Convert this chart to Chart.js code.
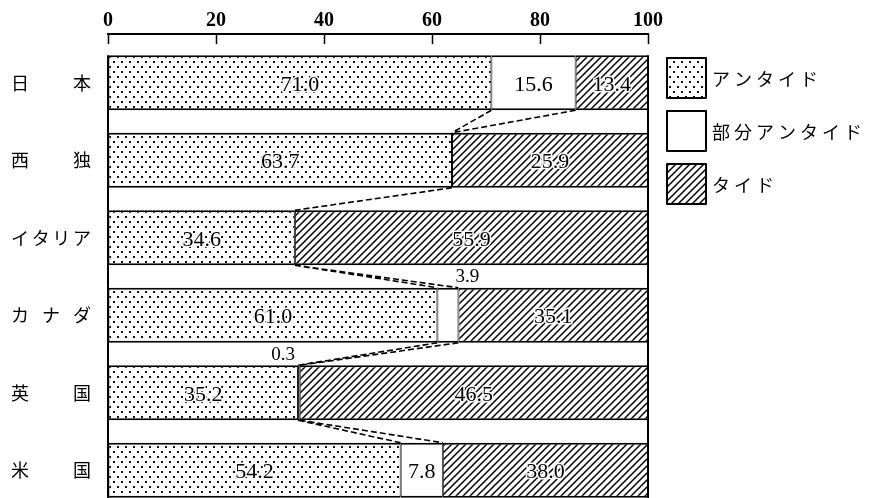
<!DOCTYPE html>
<html>
<head>
<meta charset="utf-8">
<script src="https://cdn.jsdelivr.net/npm/chart.js@4"></script>
<style>
html, body { margin: 0; padding: 0; background: #fff; overflow: hidden }
#wrap { width: 872px; height: 509px; position: relative }
</style>
</head>
<body>
<div id="wrap"><canvas id="chart"></canvas></div>
<script>

const countries = ["日本", "西独", "イタリア", "カナダ", "英国", "米国"]
const untied = [71.0, 63.7, 34.6, 61.0, 35.2, 54.2]
const partUntied = [15.6, null, null, 3.9, 0.3, 7.8]
const tied = [13.4, 25.9, 55.9, 35.1, 46.5, 38.0]
const xTicks = [0, 20, 40, 60, 80, 100]
const seriesNames = ["アンタイド", "部分アンタイド", "タイド"]

const numFont = "'Liberation Serif', 'DejaVu Serif', serif"
const jpFont = "'Noto Sans CJK JP', sans-serif"


function makeDots(){

const c = document.createElement("canvas")
c.width = 8
c.height = 10
const g = c.getContext("2d")
g.fillStyle = "#fff"
g.fillRect(0, 0, 8, 10)
g.fillStyle = "#111"
g.fillRect(1, 1, 2, 2)
g.fillRect(5, 6, 2, 2)
return g.createPattern(c, "repeat")

}

function makeHatch(){

const c = document.createElement("canvas")
c.width = 7
c.height = 7
const g = c.getContext("2d")
g.fillStyle = "#fff"
g.fillRect(0, 0, 7, 7)
g.strokeStyle = "#000"
g.lineWidth = 1.5
g.beginPath()
g.moveTo(-1, 8); g.lineTo(8, -1)
g.moveTo(-1, 1); g.lineTo(1, -1)
g.moveTo(6, 8); g.lineTo(8, 6)
g.stroke()
return g.createPattern(c, "repeat")

}

const dots = makeDots()
const hatch = makeHatch()
const fills = [dots, "#fff", hatch]


// dashed lines, value labels, country names and the legend
const decor = {

id: "decor",

afterDatasetsDraw(chart){

const { ctx, chartArea: a, scales: { x } } = chart
const bars = chart.getDatasetMeta(0).data
const topOf = el => el.y - el.height / 2
const botOf = el => el.y + el.height / 2
const x0 = x.getPixelForValue(0)
const x100 = x.getPixelForValue(100)

ctx.save()
ctx.strokeStyle = "#000"
ctx.lineWidth = 2

ctx.beginPath()
ctx.moveTo(x0 - 1, a.top - 10)
ctx.lineTo(x100 + 1, a.top - 10)
ctx.moveTo(x0, topOf(bars[0]))
ctx.lineTo(x0, a.bottom)
ctx.moveTo(x100, topOf(bars[0]))
ctx.lineTo(x100, a.bottom)
ctx.stroke()

// connectors between the band boundaries of neighbouring bars
ctx.lineWidth = 1.6
ctx.setLineDash([6, 3])
ctx.beginPath()
for(let i = 0; i < countries.length - 1; i++){
const b1 = [untied[i], untied[i] + (partUntied[i] || 0)]
const b2 = [untied[i + 1], untied[i + 1] + (partUntied[i + 1] || 0)]
for(let k = 0; k < 2; k++){
ctx.moveTo(x.getPixelForValue(b1[k]), botOf(bars[i]))
ctx.lineTo(x.getPixelForValue(b2[k]), topOf(bars[i + 1]))
}
}
ctx.stroke()
ctx.setLineDash([])

// value labels
const values = [untied, partUntied, tied]
ctx.textBaseline = "middle"
ctx.lineJoin = "round"
values.forEach((arr, d) => {
const meta = chart.getDatasetMeta(d)
arr.forEach((v, i) => {
if(v == null) return
const el = meta.data[i]
const left = Math.min(el.base, el.x)
const right = Math.max(el.base, el.x)
if(right - left > 30){
ctx.font = "22px " + numFont
ctx.textAlign = "center"
const tx = (left + right) / 2
const ty = el.y + 2
ctx.strokeStyle = "#fff"
ctx.lineWidth = 3
ctx.strokeText(v.toFixed(1), tx, ty)
ctx.fillStyle = "#000"
ctx.fillText(v.toFixed(1), tx, ty)
}else{
// thin band: write it in the gap above, away from the connectors
ctx.font = "19px " + numFont
const prev = bars[i - 1]
const gy = (botOf(prev) + topOf(el)) / 2 + 1
const fromLeft = untied[i - 1] < untied[i]
ctx.textAlign = fromLeft ? "left" : "right"
ctx.fillStyle = "#000"
ctx.fillText(v.toFixed(1), fromLeft ? right - 3 : left - 3, gy)
}
})
})

// country names, spread between two fixed edges
const size = 18
ctx.font = size + "px " + jpFont
ctx.textAlign = "left"
ctx.fillStyle = "#000"
const edgeL = 11
const edgeR = 91
countries.forEach((name, i) => {
const chars = [...name]
const pitch = chars.length > 1 ? (edgeR - edgeL - size) / (chars.length - 1) : 0
chars.forEach((ch, k) => {
ctx.fillText(ch, edgeL + k * pitch, bars[i].y)
})
})

// legend
const lx = a.right + 19
const ly = a.top + 14
ctx.font = "18px " + jpFont
ctx.letterSpacing = "4px"
seriesNames.forEach((name, k) => {
const by = ly + k * 53
ctx.fillStyle = fills[k]
ctx.fillRect(lx, by, 39, 40)
ctx.strokeStyle = "#000"
ctx.lineWidth = 2
ctx.strokeRect(lx, by, 39, 40)
ctx.fillStyle = "#000"
ctx.fillText(name, lx + 45, by + 21)
})
ctx.letterSpacing = "0px"

ctx.restore()

}

}


new Chart(document.getElementById("chart"), {

type: "bar",

data: {
labels: countries,
datasets: [
{ label: seriesNames[0], data: untied.map(v => [0, v]), backgroundColor: dots },
{ label: seriesNames[1], data: untied.map((v, i) => partUntied[i] == null ? null : [v, v + partUntied[i]]), backgroundColor: "#fff" },
// the source draws the タイド band right out to the 100 line
{ label: seriesNames[2], data: untied.map((v, i) => [v + (partUntied[i] || 0), 100]), backgroundColor: hatch }
]
},

options: {
indexAxis: "y",
responsive: true,
maintainAspectRatio: false,
animation: false,
layout: { padding: { left: 108, right: 224, top: 8, bottom: 0 } },
datasets: {
bar: {
grouped: false,
barPercentage: 0.71,
categoryPercentage: 1,
borderColor: "#000",
borderWidth: { top: 2, bottom: 2, left: 1, right: 1 },
borderSkipped: false
}
},
scales: {
x: {
position: "top",
min: 0,
max: 100,
afterBuildTicks: s => { s.ticks = xTicks.map(v => ({ value: v })) },
grid: { drawOnChartArea: false, tickLength: 10, tickColor: "#000", tickWidth: 1.5 },
border: { display: false },
ticks: { padding: 1, color: "#000", font: { family: numFont, size: 20, weight: "bold" } }
},
y: { display: false }
},
plugins: {
legend: { display: false },
tooltip: { enabled: false }
}
},

plugins: [decor]

})

</script>
</body>
</html>
